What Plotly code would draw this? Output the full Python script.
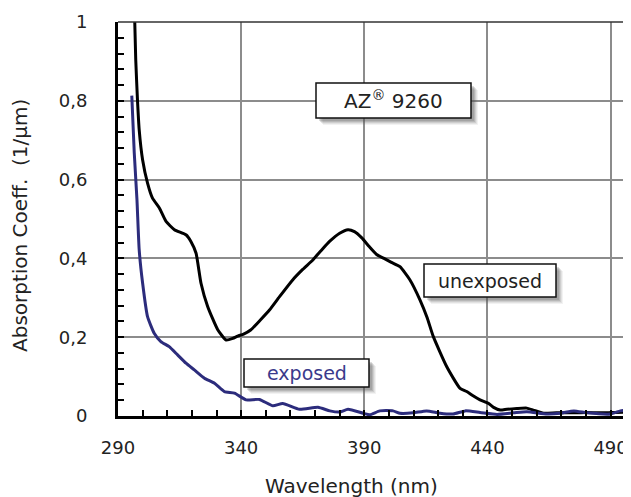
import plotly.graph_objects as go

# ---- data ----
wl_unexposed = [296.6, 297.2, 297.9, 298.6, 300.0, 302.0, 304.0, 306.8, 309.5, 312.9,
                317.6, 319.6, 321.7, 323.7, 326.4, 330.5, 333.9, 336.6, 338.6, 341.0,
                344.0, 348.0, 351.5, 355.6, 361.0, 365.0, 369.1, 372.5, 375.9, 380.0,
                383.4, 386.0, 389.0, 392.0, 395.0, 398.0, 401.0, 404.5, 408.5, 412.6,
                415.5, 418.0, 423.5, 428.9, 431.6, 434.0, 437.0, 440.4, 442.5, 445.2,
                447.9, 452.0, 456.0, 458.6, 462.8, 468.0, 474.0, 480.0, 486.0, 492.0, 498.0]
abs_unexposed = [1.05, 0.905, 0.803, 0.727, 0.65, 0.591, 0.553, 0.528, 0.494, 0.473,
                 0.46, 0.443, 0.413, 0.337, 0.278, 0.219, 0.193, 0.197, 0.203, 0.208,
                 0.219, 0.245, 0.269, 0.303, 0.346, 0.372, 0.396, 0.42, 0.443, 0.464,
                 0.473, 0.468, 0.452, 0.43, 0.41, 0.40, 0.39, 0.379, 0.346, 0.295,
                 0.25, 0.202, 0.125, 0.070, 0.062, 0.052, 0.041, 0.032, 0.022, 0.015,
                 0.017, 0.019, 0.02, 0.015, 0.007, 0.008, 0.008, 0.009, 0.008, 0.009, 0.01]

wl_exposed = [295.6, 296.6, 297.7, 298.6, 300.0, 302.0, 304.7, 307.4, 310.8, 314.2,
              317.6, 321.0, 325.1, 329.2, 333.2, 337.3, 342.0, 347.4, 352.9, 356.9,
              363.7, 371.2, 376.0, 380.0, 383.4, 389.5, 392.2, 396.3, 401.7, 404.5,
              409.8, 415.3, 420.8, 426.1, 431.0, 437.0, 443.9, 450.6, 456.0, 464.2,
              469.6, 475.1, 480.5, 490.0, 494.0, 498.0]
abs_exposed = [0.813, 0.668, 0.549, 0.422, 0.337, 0.252, 0.21, 0.189, 0.176, 0.155,
               0.134, 0.117, 0.096, 0.083, 0.062, 0.058, 0.041, 0.042, 0.026, 0.032,
               0.017, 0.022, 0.013, 0.010, 0.017, 0.007, 0.003, 0.013, 0.013, 0.007,
               0.008, 0.013, 0.007, 0.005, 0.013, 0.009, 0.004, 0.008, 0.011, 0.005,
               0.007, 0.013, 0.008, 0.005, 0.013, 0.015]

x_ticks = [290, 340, 390, 440, 490]
y_ticks = [0, 0.2, 0.4, 0.6, 0.8, 1]
y_tick_labels = ["0", "0,2", "0,4", "0,6", "0,8", "1"]

FONT = "DejaVu Sans"
TXT = "#222222"
PAGE_OFF = 8            # default body margin of the html page
W, H = 631 - PAGE_OFF, 497 - PAGE_OFF
# plot area in page pixels: left 118, right 631, top 22, bottom 416
L, R, T, B = 118 - PAGE_OFF, 0, 22 - PAGE_OFF, H - (416 - PAGE_OFF)

def px_x(p):   # page pixel -> paper
    return (p - PAGE_OFF - L) / (W - L - R)

def px_y(p):
    return (H - B - (p - PAGE_OFF)) / (H - B - T)

fig = go.Figure()
fig.add_trace(go.Scatter(x=wl_unexposed, y=abs_unexposed, mode="lines",
                         line=dict(color="black", width=3, shape="spline", smoothing=0.5),
                         showlegend=False))
fig.add_trace(go.Scatter(x=wl_exposed, y=abs_exposed, mode="lines",
                         line=dict(color="#2c2c7c", width=3, shape="spline", smoothing=0.5),
                         showlegend=False))

shapes = []
annotations = []

def label_box(x0, y0, x1, y1, text, color=TXT, size=19):
    # soft shadow
    for off, op in [(7, 0.08), (6, 0.10), (5, 0.14), (4, 0.18), (3, 0.2)]:
        shapes.append(dict(type="rect", xref="paper", yref="paper",
                           x0=px_x(x0 + off), x1=px_x(x1 + off),
                           y0=px_y(y0 + off), y1=px_y(y1 + off),
                           fillcolor="#555555", opacity=op, line=dict(width=0),
                           layer="above"))
    shapes.append(dict(type="rect", xref="paper", yref="paper",
                       x0=px_x(x0), x1=px_x(x1), y0=px_y(y0), y1=px_y(y1),
                       fillcolor="white", line=dict(color="#111111", width=1.5),
                       layer="above"))
    annotations.append(dict(xref="paper", yref="paper",
                            x=px_x((x0 + x1) / 2), y=px_y((y0 + y1) / 2),
                            text=text, showarrow=False,
                            font=dict(family=FONT, size=size, color=color),
                            xanchor="center", yanchor="middle"))

label_box(316, 83, 471, 118, "AZ<sup>®</sup> 9260", size=20)
label_box(424, 264, 556, 297, "unexposed", size=19)
label_box(244, 359, 369, 387, "exposed", color="#3a3a8c", size=19)

# top border line
shapes.append(dict(type="line", xref="paper", yref="paper", x0=0, x1=1, y0=1, y1=1,
                   line=dict(color="#333333", width=1.5), layer="above"))

# axis titles
annotations.append(dict(xref="paper", yref="paper", x=px_x(351), y=px_y(486),
                        text="Wavelength (nm)", showarrow=False,
                        font=dict(family=FONT, size=20, color=TXT),
                        xanchor="center", yanchor="middle"))
annotations.append(dict(xref="paper", yref="paper", x=px_x(20), y=px_y(226),
                        text="Absorption Coeff.&nbsp;&nbsp;(1/µm)", showarrow=False,
                        textangle=-90,
                        font=dict(family=FONT, size=20, color=TXT),
                        xanchor="center", yanchor="middle"))

fig.update_layout(
    width=W, height=H,
    margin=dict(l=L, r=R, t=T, b=B),
    paper_bgcolor="white", plot_bgcolor="white",
    shapes=shapes, annotations=annotations,
    font=dict(family=FONT, size=18, color=TXT),
)
fig.update_xaxes(range=[290, 498.3], tickvals=x_ticks, showgrid=True,
                 gridcolor="#8c8c8c", gridwidth=1.5,
                 showline=True, linecolor="black", linewidth=3,
                 ticks="inside", ticklen=6, tickwidth=1.5, tickcolor="black",
                 minor=dict(dtick=10, tick0=290, ticks="inside", ticklen=6,
                            tickwidth=1.5, tickcolor="black", showgrid=False),
                 tickfont=dict(family=FONT, size=18, color=TXT),
                 ticklabelstandoff=13, zeroline=False)
fig.update_yaxes(range=[0, 1], tickvals=y_ticks, ticktext=y_tick_labels,
                 showgrid=True, gridcolor="#8c8c8c", gridwidth=1.5,
                 showline=True, linecolor="black", linewidth=3,
                 ticks="inside", ticklen=6, tickwidth=1.5, tickcolor="black",
                 minor=dict(dtick=0.04, tick0=0, ticks="inside", ticklen=6,
                            tickwidth=1.5, tickcolor="black", showgrid=False),
                 tickfont=dict(family=FONT, size=18, color=TXT),
                 ticklabelstandoff=24, zeroline=False)

fig.write_html("out.html")
